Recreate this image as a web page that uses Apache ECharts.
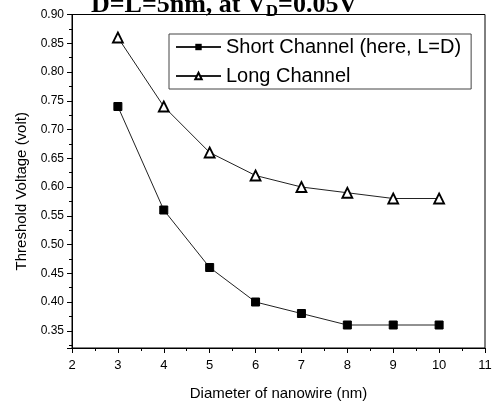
<!DOCTYPE html>
<html>
<head>
<meta charset="utf-8">
<script src="https://cdn.jsdelivr.net/npm/echarts@6/dist/echarts.min.js"></script>
<style>
html,body{margin:0;padding:0;background:#fff;}
#c{width:497px;height:406px;}
</style>
</head>
<body>
<div id="c"></div>
<script>
const diameters = [3, 4, 5, 6, 7, 8, 9, 10];
const shortChannel = [0.74, 0.56, 0.46, 0.40, 0.38, 0.36, 0.36, 0.36];
const longChannel = [0.86, 0.74, 0.66, 0.62, 0.60, 0.59, 0.58, 0.58];
const seriesNames = ['Short Channel (here, L=D)', 'Long Channel'];

const chart = echarts.init(document.getElementById('c'), null, {renderer: 'canvas'});
const font = 'Liberation Sans, Arial, sans-serif';
const serif = 'Liberation Serif, Times New Roman, serif';
chart.setOption({
  animation: false,
  backgroundColor: '#fff',
  title: {
    text: '{a|D=L=5nm, at V}{s|D}{a|=0.05V}',
    left: 91,
    top: -9,
    padding: 0,
    textStyle: {
      rich: {
        a: {fontFamily: serif, fontWeight: 'bold', fontSize: 26, color: '#000', lineHeight: 28},
        s: {fontFamily: serif, fontWeight: 'bold', fontSize: 17, color: '#000', lineHeight: 28, padding: [14, 0, 0, 0]}
      }
    }
  },
  grid: {left: 72, right: 12, top: 14.5, bottom: 54, show: true, borderColor: '#000', borderWidth: 1},
  legend: {
    left: 169, top: 34,
    width: 303,
    orient: 'vertical',
    itemWidth: 45, itemHeight: 8,
    itemGap: 9,
    padding: [3, 10, 3, 6],
    borderColor: '#444', borderWidth: 1,
    textStyle: {fontFamily: font, fontSize: 20, color: '#000'},
    data: seriesNames
  },
  xAxis: {
    type: 'value', min: 2, max: 11, interval: 1,
    name: 'Diameter of nanowire (nm)', nameLocation: 'middle', nameGap: 38,
    nameTextStyle: {fontFamily: font, fontSize: 15, color: '#000'},
    axisLine: {show: true, onZero: false, lineStyle: {color: '#000', width: 1}},
    axisTick: {show: true, inside: false, length: 5, lineStyle: {color: '#000'}},
    minorTick: {show: true, splitNumber: 2, length: 3, lineStyle: {color: '#000'}},
    axisLabel: {fontFamily: font, fontSize: 13, color: '#000', margin: 11},
    splitLine: {show: false}
  },
  yAxis: {
    type: 'value', min: 0.32, max: 0.9,
    minInterval: 0.05, maxInterval: 0.05,
    name: 'Threshold Voltage (volt)', nameLocation: 'middle', nameGap: 42,
    nameTextStyle: {fontFamily: font, fontSize: 15, color: '#000', padding: [0, 20, 0, 0]},
    axisLine: {show: true, onZero: false, lineStyle: {color: '#000', width: 1}},
    axisTick: {show: true, inside: false, length: 5, lineStyle: {color: '#000'}},
    minorTick: {show: true, splitNumber: 2, length: 3, lineStyle: {color: '#000'}},
    axisLabel: {fontFamily: font, fontSize: 12, color: '#000', margin: 8, showMinLabel: false,
      formatter: v => v.toFixed(2)},
    splitLine: {show: false}
  },
  series: [
    {
      name: seriesNames[0], type: 'line',
      data: diameters.map((d, i) => [d, shortChannel[i]]),
      symbol: 'rect', symbolSize: 8,
      lineStyle: {color: '#222', width: 1},
      itemStyle: {color: '#000', borderColor: '#000'}
    },
    {
      name: seriesNames[1], type: 'line',
      data: diameters.map((d, i) => [d, longChannel[i]]),
      symbol: 'triangle', symbolSize: 10,
      lineStyle: {color: '#222', width: 1},
      itemStyle: {color: '#fff', borderColor: '#000', borderWidth: 1.8}
    }
  ]
});
</script>
</body>
</html>
